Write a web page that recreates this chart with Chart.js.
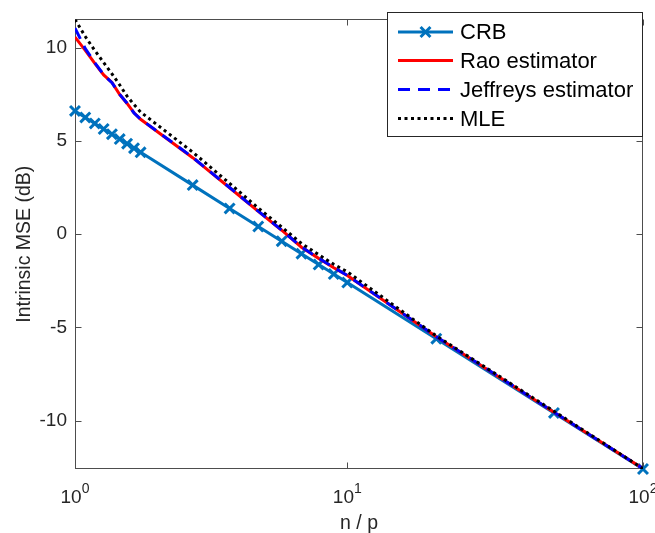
<!DOCTYPE html>
<html>
<head>
<meta charset="utf-8">
<script src="https://cdn.jsdelivr.net/npm/chart.js@4.4.1/dist/chart.umd.min.js"></script>
<style>
  html, body { margin: 0; padding: 0; background: #fff; }
  canvas { display: block; }
</style>
</head>
<body>
<canvas id="myChart" width="655" height="533"></canvas>
<script>
// values
const ratios = [1.2, 1.3, 1.4, 1.5, 1.6, 1.7, 1.8, 1.9, 2, 3, 4, 5, 6, 7, 8, 9, 10, 20, 50, 100];
const crb      = [6.61, 6.26, 5.94, 5.64, 5.36, 5.10, 4.85, 4.61, 4.39, 2.63, 1.38, 0.41, -0.38, -1.05, -1.63, -2.14, -2.60, -5.61, -9.59, -12.60];
const rao      = [10.57, 9.86, 9.16, 8.54, 8.14, 7.49, 7.01, 6.51, 6.16, 4.10, 2.49, 1.22, 0.21, -0.70, -1.30, -1.80, -2.22, -5.50, -9.55, -12.58];
const jeffreys = [11.05, 9.95, 9.20, 8.55, 8.12, 7.50, 7.02, 6.50, 6.17, 4.12, 2.50, 1.23, 0.22, -0.69, -1.29, -1.79, -2.21, -5.50, -9.55, -12.58];
const mle      = [11.52, 10.60, 9.85, 9.20, 8.60, 8.00, 7.40, 6.95, 6.55, 4.40, 2.72, 1.40, 0.38, -0.50, -1.10, -1.62, -2.02, -5.46, -9.50, -12.58];

const seriesNames = ['CRB', 'Rao estimator', 'Jeffreys estimator', 'MLE'];
const yTicks = [-10, -5, 0, 5, 10];
const xTicks = [1.2, 10, 100];
const xTickBase = ['10', '10', '10'];
const xTickExp = ['0', '1', '2'];

const FONT = "'Liberation Sans', Arial, Helvetica, sans-serif";
const AXIS_COLOR = '#262626';

function pairs(ys) {
    return ratios.map((r, i) => ({ x: r, y: ys[i] }));
}

// axes box, inward ticks, x tick labels and the legend box
const matlabFrame = {
    id: 'matlabFrame',
    beforeDatasetsDraw(chart) {
        const { ctx, chartArea: a, scales: { x, y } } = chart;
        const L = Math.round(a.left) + 0.5, R = Math.round(a.right) - 0.5;
        const T = Math.round(a.top) + 0.5, B = Math.round(a.bottom) - 0.5;
        ctx.save();
        ctx.strokeStyle = '#4d4d4d';
        ctx.lineWidth = 1;
        ctx.strokeRect(L, T, R - L, B - T);
        ctx.beginPath();
        yTicks.forEach(v => {
            const py = Math.round(y.getPixelForValue(v)) + 0.5;
            ctx.moveTo(L, py); ctx.lineTo(L + 6, py);
            ctx.moveTo(R, py); ctx.lineTo(R - 6, py);
        });
        xTicks.forEach(v => {
            const px = Math.round(x.getPixelForValue(v)) + 0.5;
            ctx.moveTo(px, B); ctx.lineTo(px, B - 6);
            ctx.moveTo(px, T); ctx.lineTo(px, T + 6);
        });
        ctx.stroke();

        // x tick labels as 10^k
        ctx.fillStyle = AXIS_COLOR;
        ctx.textBaseline = 'alphabetic';
        ctx.textAlign = 'left';
        xTicks.forEach((v, i) => {
            const px = x.getPixelForValue(v);
            ctx.font = '19px ' + FONT;
            const wb = ctx.measureText(xTickBase[i]).width;
            ctx.font = '14px ' + FONT;
            const we = ctx.measureText(xTickExp[i]).width;
            const start = px - (wb + we) / 2;
            ctx.font = '19px ' + FONT;
            ctx.fillText(xTickBase[i], start, 503);
            ctx.font = '14px ' + FONT;
            ctx.fillText(xTickExp[i], start + wb, 493);
        });
        ctx.restore();
    },
    afterDatasetsDraw(chart) {
        const { ctx } = chart;
        const box = { l: 387.5, t: 12.5, r: 642.5, b: 136.5 };
        ctx.save();
        ctx.fillStyle = '#fff';
        ctx.fillRect(box.l, box.t, box.r - box.l, box.b - box.t);
        ctx.strokeStyle = AXIS_COLOR;
        ctx.lineWidth = 1;
        ctx.strokeRect(box.l, box.t, box.r - box.l, box.b - box.t);

        const rows = [32, 60.5, 89.5, 118.5];
        chart.data.datasets.forEach((ds, i) => {
            const yy = rows[i];
            ctx.strokeStyle = ds.borderColor;
            ctx.lineWidth = ds.borderWidth;
            ctx.setLineDash(ds.borderDash || []);
            ctx.beginPath();
            ctx.moveTo(398, yy);
            ctx.lineTo(453, yy);
            ctx.stroke();
            ctx.setLineDash([]);
            if (ds.pointRadius > 0) {
                const d = ds.pointRadius * Math.SQRT1_2;
                const cx = 425.5;
                ctx.lineWidth = ds.pointBorderWidth;
                ctx.beginPath();
                ctx.moveTo(cx - d, yy - d); ctx.lineTo(cx + d, yy + d);
                ctx.moveTo(cx - d, yy + d); ctx.lineTo(cx + d, yy - d);
                ctx.stroke();
            }
            ctx.fillStyle = '#000';
            ctx.font = '22px ' + FONT;
            ctx.textBaseline = 'middle';
            ctx.textAlign = 'left';
            ctx.fillText(seriesNames[i], 460, yy + 1);
        });
        ctx.restore();
    }
};

const ctx = document.getElementById('myChart').getContext('2d');

const myChart = new Chart(ctx, {
    type: 'line',
    data: {
        datasets: [
            {
                label: seriesNames[0],
                data: pairs(crb),
                borderColor: '#0072BD',
                backgroundColor: '#0072BD',
                borderWidth: 3,
                pointStyle: 'crossRot',
                pointRadius: 7,
                pointBorderWidth: 3,
                pointBorderColor: '#0072BD',
                clip: false,
                order: 4
            },
            {
                label: seriesNames[1],
                data: pairs(rao),
                borderColor: '#FF0000',
                borderWidth: 3,
                pointRadius: 0,
                order: 3
            },
            {
                label: seriesNames[2],
                data: pairs(jeffreys),
                borderColor: '#0000FF',
                borderWidth: 3,
                borderDash: [12, 8],
                pointRadius: 0,
                order: 2
            },
            {
                label: seriesNames[3],
                data: pairs(mle),
                borderColor: '#000000',
                borderWidth: 3,
                borderDash: [3, 3.5],
                pointRadius: 0,
                order: 1
            }
        ]
    },
    options: {
        responsive: false,
        animation: false,
        devicePixelRatio: 1,
        layout: { padding: { left: 0, right: 12, top: 12, bottom: 0 } },
        elements: { line: { tension: 0, fill: false } },
        plugins: {
            legend: { display: false },
            tooltip: { enabled: false }
        },
        scales: {
            x: {
                type: 'logarithmic',
                min: 1.2,
                max: 100,
                afterBuildTicks: s => { s.ticks = xTicks.map(v => ({ value: v })); },
                afterFit: s => { s.height = 64; },
                grid: { display: false, drawTicks: false },
                border: { display: false },
                ticks: { display: false },
                title: {
                    display: true,
                    text: 'n / p',
                    color: AXIS_COLOR,
                    font: { size: 19.5, family: FONT, lineHeight: 1 },
                    padding: { top: 0, bottom: 0 }
                }
            },
            y: {
                type: 'linear',
                min: -12.6,
                max: 11.52,
                afterBuildTicks: s => { s.ticks = yTicks.map(v => ({ value: v })); },
                afterFit: s => { s.width = 75; },
                grid: { display: false, drawTicks: false },
                border: { display: false },
                ticks: {
                    padding: 8,
                    color: AXIS_COLOR,
                    font: { size: 19, family: FONT }
                },
                title: {
                    display: true,
                    text: 'Intrinsic MSE (dB)',
                    color: AXIS_COLOR,
                    font: { size: 19.5, family: FONT, lineHeight: 1 },
                    padding: { top: 15, bottom: 0 }
                }
            }
        }
    },
    plugins: [matlabFrame]
});
</script>
</body>
</html>
